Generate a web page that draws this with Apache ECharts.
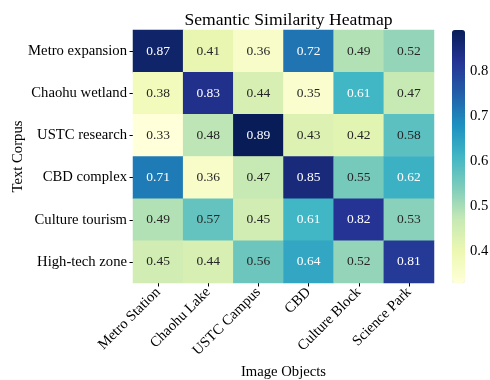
<!DOCTYPE html>
<html>
<head>
<meta charset="utf-8">
<script src="https://cdn.jsdelivr.net/npm/echarts@6/dist/echarts.min.js"></script>
<style>html,body{margin:0;padding:0;background:#fff;}#chart{width:490px;height:380px;}</style>
</head>
<body>
<div id="chart"></div>
<script>
const imageObjects = ['Metro Station', 'Chaohu Lake', 'USTC Campus', 'CBD', 'Culture Block', 'Science Park'];
const textCorpus = ['Metro expansion', 'Chaohu wetland', 'USTC research', 'CBD complex', 'Culture tourism', 'High-tech zone'];
const rowMetro = [0.87, 0.41, 0.36, 0.72, 0.49, 0.52];
const rowChaohu = [0.38, 0.83, 0.44, 0.35, 0.61, 0.47];
const rowUSTC = [0.33, 0.48, 0.89, 0.43, 0.42, 0.58];
const rowCBD = [0.71, 0.36, 0.47, 0.85, 0.55, 0.62];
const rowCulture = [0.49, 0.57, 0.45, 0.61, 0.82, 0.53];
const rowHighTech = [0.45, 0.44, 0.56, 0.64, 0.52, 0.81];
const colorbarTicks = [0.4, 0.5, 0.6, 0.7, 0.8];
const vMin = 0.33, vMax = 0.89;

const rows = [rowMetro, rowChaohu, rowUSTC, rowCBD, rowCulture, rowHighTech];
const data = [];
rows.forEach((r, yi) => r.forEach((v, xi) => data.push([xi, yi, v])));

const FONT = '"Liberation Serif", "Times New Roman", serif';
const TICK_FS = 14.67;
const ylgnbu = ['#ffffd9', '#edf8b1', '#c7e9b4', '#7fcdbb', '#41b6c4', '#1d91c0', '#225ea8', '#253494', '#081d58'];

function hexToRgb(h){return [parseInt(h.slice(1,3),16),parseInt(h.slice(3,5),16),parseInt(h.slice(5,7),16)];}
function colorAt(v){
  const t = Math.min(1, Math.max(0, (v - vMin) / (vMax - vMin))) * (ylgnbu.length - 1);
  const i = Math.min(ylgnbu.length - 2, Math.floor(t)), f = t - i;
  const a = hexToRgb(ylgnbu[i]), b = hexToRgb(ylgnbu[i+1]);
  return a.map((c, k) => c + (b[k] - c) * f);
}
function lum(rgb){
  const c = rgb.map(x => { x /= 255; return x <= 0.03928 ? x / 12.92 : Math.pow((x + 0.055) / 1.055, 2.4); });
  return 0.2126*c[0] + 0.7152*c[1] + 0.0722*c[2];
}
const styled = data.map(d => ({value: d, label: {color: lum(colorAt(d[2])) > 0.408 ? '#262626' : '#ffffff'}}));

const chart = echarts.init(document.getElementById('chart'), null, {renderer: 'canvas'});
chart.setOption({
  backgroundColor: '#fff',
  animation: false,
  title: {
    text: 'Semantic Similarity Heatmap',
    left: 283.5, top: 6, textAlign: 'center',
    textStyle: {fontFamily: FONT, fontSize: 17.6, fontWeight: 'normal', color: '#000'}
  },
  grid: [
    {left: 133, top: 30, width: 301, height: 253, outerBoundsMode: 'none', containLabel: false},
    {left: 452, top: 30, width: 13, height: 253, outerBoundsMode: 'none', containLabel: false}
  ],
  xAxis: [
    {
      type: 'category', data: imageObjects, gridIndex: 0,
      name: 'Image Objects', nameLocation: 'middle', nameGap: 82, nameMoveOverlap: false,
      nameTextStyle: {fontFamily: FONT, fontSize: TICK_FS, color: '#000'},
      axisLine: {show: false},
      axisTick: {show: true, alignWithLabel: true, length: 3.5, lineStyle: {color: '#000'}},
      axisLabel: {rotate: 45, fontFamily: FONT, fontSize: TICK_FS, color: '#000', margin: 7, interval: 0},
      splitLine: {show: false}
    },
    {type: 'value', gridIndex: 1, show: false, min: 0, max: 1}
  ],
  yAxis: [
    {
      type: 'category', data: textCorpus, gridIndex: 0, inverse: true,
      name: 'Text Corpus', nameLocation: 'middle', nameGap: 107, nameMoveOverlap: false,
      nameTextStyle: {fontFamily: FONT, fontSize: TICK_FS, color: '#000'},
      axisLine: {show: false},
      axisTick: {show: true, alignWithLabel: true, length: 3.5, lineStyle: {color: '#000'}},
      axisLabel: {fontFamily: FONT, fontSize: TICK_FS, color: '#000', margin: 6, interval: 0},
      splitLine: {show: false}
    },
    {
      type: 'value', gridIndex: 1, position: 'right', min: vMin, max: vMax,
      axisLine: {show: false},
      axisTick: {show: true, length: 3.5, customValues: colorbarTicks, lineStyle: {color: '#000'}},
      axisLabel: {fontFamily: FONT, fontSize: TICK_FS, color: '#000', margin: 5, customValues: colorbarTicks,
        formatter: v => v.toFixed(1)},
      splitLine: {show: false}
    }
  ],
  visualMap: {
    type: 'continuous', min: vMin, max: vMax, calculable: false, seriesIndex: 0,
    orient: 'vertical', left: 452, top: 30, itemWidth: 13, itemHeight: 253, padding: 0,
    text: null, showLabel: false,
    inRange: {color: ylgnbu}
  },
  series: [
    {
      type: 'heatmap', xAxisIndex: 0, yAxisIndex: 0, data: styled,
      itemStyle: {borderWidth: 0},
      label: {
        show: true, fontFamily: FONT, fontSize: 13.5,
        formatter: p => p.value[2].toFixed(2),
        color: '#262626'
      },
      emphasis: {disabled: true}
    },
    {type: 'scatter', xAxisIndex: 1, yAxisIndex: 1, data: []}
  ]
});
</script>
</body>
</html>
